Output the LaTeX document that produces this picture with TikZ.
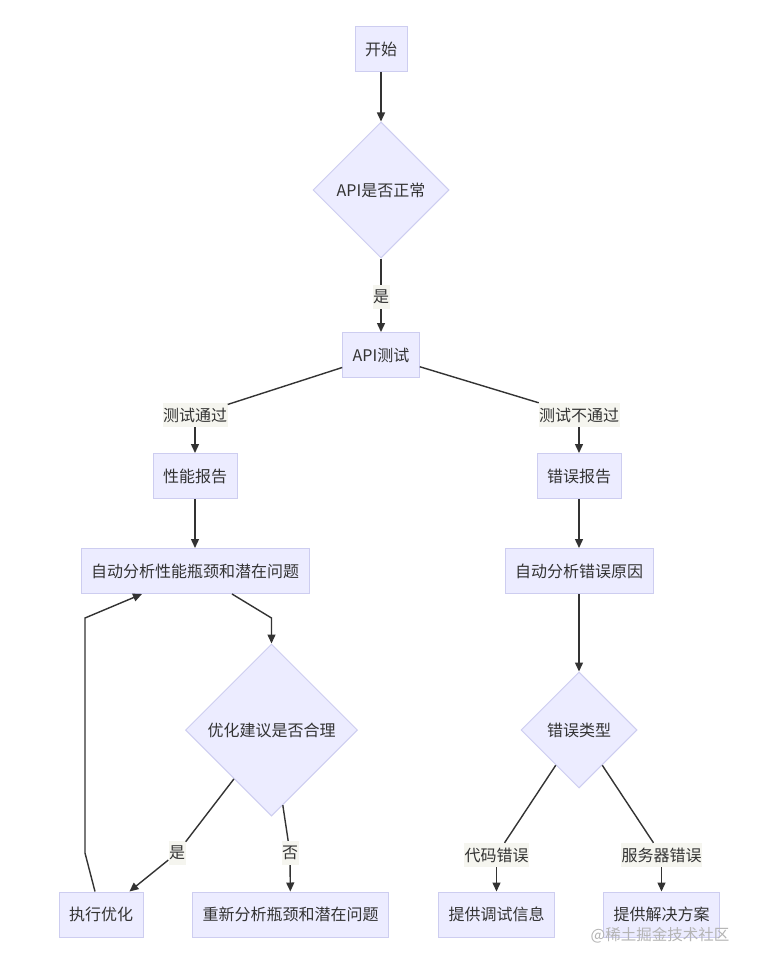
\documentclass[tikz,border=0pt]{standalone}
\usepackage{fontspec}
\setmainfont{Noto Sans CJK SC}
\usetikzlibrary{shapes.geometric,arrows.meta}
\definecolor{nodefill}{HTML}{ECECFF}
\definecolor{nodeline}{HTML}{CDCDF0}
\definecolor{edgeline}{HTML}{333333}
\definecolor{lblfill}{HTML}{F5F5EF}
\definecolor{wmark}{HTML}{B4B4B4}
\tikzset{
  box/.style={draw=nodeline,fill=nodefill,line width=1pt,minimum height=45pt,
    inner xsep=10pt,text=edgeline,font=\fontsize{16}{19}\selectfont},
  decision/.style={box,diamond,inner sep=0pt,minimum width=#1,minimum height=#1},
  lbl/.style={fill=lblfill,inner xsep=0.5pt,inner ysep=0pt,minimum height=24pt,
    text=edgeline,font=\fontsize{16}{19}\selectfont},
  link/.style={draw=edgeline,line width=1.4pt},
  arr/.style={link,-{Triangle[length=9pt,width=8pt]}}
}
\begin{document}
\begin{tikzpicture}[x=1pt,y=-1pt]
            \useasboundingbox[fill=white] (0,0) rectangle (756,968);
            % main line
            \node[box] (start) at (381,49) {开始};
            \node[decision=136pt] (apiok) at (381,190) {API是否正常};
            \node[lbl] (lblyes) at (381,297) {是};
            \node[box] (apitest) at (381,355) {API测试};
            \node[lbl] (lblpass) at (195,415) {测试通过};
            \node[lbl] (lblfail) at (579,415) {测试不通过};
            % left branch
            \node[box] (perfrep) at (195,476) {性能报告};
            \node[box] (perfana) at (195,571) {自动分析性能瓶颈和潜在问题};
            \node[decision=172pt] (optok) at (271.5,730) {优化建议是否合理};
            \node[lbl] (lbloptyes) at (177,853) {是};
            \node[lbl] (lbloptno) at (290,853) {否};
            \node[box] (execopt) at (101,914.5) {执行优化};
            \node[box] (reana) at (290.5,914.5) {重新分析瓶颈和潜在问题};
            % right branch
            \node[box] (errrep) at (579,476) {错误报告};
            \node[box] (errana) at (579,571) {自动分析错误原因};
            \node[decision=116pt] (errtype) at (579,730) {错误类型};
            \node[lbl] (lblcode) at (496.5,855) {代码错误};
            \node[lbl] (lblserv) at (661.5,855) {服务器错误};
            \node[box] (debug) at (496.5,914.5) {提供调试信息};
            \node[box] (solve) at (661.5,914.5) {提供解决方案};
            % connectors
            \draw[arr] (start) -- (apiok);
            \draw[link] (apiok) -- (lblyes);
            \draw[arr] (lblyes) -- (apitest);
            \draw[link] (apitest) -- (lblpass);
            \draw[arr] (lblpass) -- (perfrep);
            \draw[link] (apitest) -- (lblfail);
            \draw[arr] (lblfail) -- (errrep);
            \draw[arr] (perfrep) -- (perfana);
            \draw[arr] ([xshift=37pt]perfana.south) -- (271.5,618) -- (optok.north);
            \draw[link] (optok) -- (lbloptyes);
            \draw[arr] (lbloptyes) -- (execopt);
            \draw[link] (optok) -- (lbloptno);
            \draw[arr] (lbloptno) -- (reana);
            \draw[arr] ([xshift=-6pt]execopt.north) -- (85,853) -- (85,618) -- ([xshift=-53pt]perfana.south);
            \draw[arr] (errrep) -- (errana);
            \draw[arr] (errana) -- (errtype);
            \draw[link] (errtype) -- (lblcode);
            \draw[arr] (lblcode) -- (debug);
            \draw[link] (errtype) -- (lblserv);
            \draw[arr] (lblserv) -- (solve);
            % watermark
            \node[text=wmark,font=\fontsize{15.5}{18}\selectfont] (wm) at (660,935) {@稀土掘金技术社区};
        \end{tikzpicture}
\end{document}
